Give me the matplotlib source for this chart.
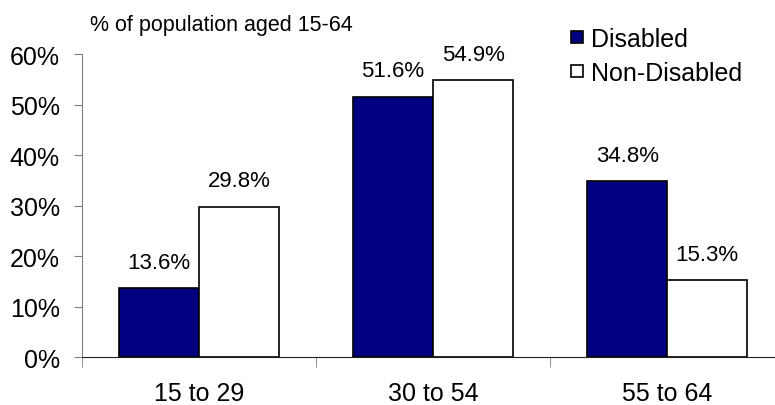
import matplotlib.pyplot as plt
import numpy as np
from matplotlib.lines import Line2D
from matplotlib.ticker import FixedLocator, PercentFormatter

plt.rcParams['font.family'] = ['Liberation Sans', 'DejaVu Sans']

age_groups = ["15 to 29", "30 to 54", "55 to 64"]
disabled = [13.6, 51.6, 34.8]
non_disabled = [29.8, 54.9, 15.3]

fig = plt.figure(figsize=(7.75, 4.06), dpi=100)
ax = fig.add_axes([0.1058, 0.118, 0.894, 0.746])

x = np.arange(len(age_groups))
w = 0.342
b1 = ax.bar(x - w / 2, disabled, w, color="#000080", edgecolor="black",
            linewidth=1.2, label="Disabled")
b2 = ax.bar(x + w / 2, non_disabled, w, color="white", edgecolor="black",
            linewidth=1.2, label="Non-Disabled")

for bars, vals in ((b1, disabled), (b2, non_disabled)):
    for rect, v in zip(bars, vals):
        ax.annotate(f"{v}%", (rect.get_x() + rect.get_width() / 2, v),
                    xytext=(0, 11), textcoords="offset points",
                    ha="center", va="bottom", fontsize=16)

ax.set_xlim(-0.5, 2.46)
ax.set_ylim(0, 60)
ax.set_yticks(np.arange(0, 61, 10))
ax.yaxis.set_major_formatter(PercentFormatter(decimals=0))
ax.set_xticks(x)
ax.set_xticklabels(age_groups)
ax.xaxis.set_minor_locator(FixedLocator([-0.5, 0.5, 1.5]))

ax.tick_params(axis="x", which="major", length=0, pad=17, labelsize=18)
ax.tick_params(axis="x", which="minor", length=7, color="#808080")
ax.tick_params(axis="y", length=6, color="#808080", pad=10, labelsize=18)

for s in ("top", "right"):
    ax.spines[s].set_visible(False)
ax.spines["left"].set_color("#808080")
ax.spines["bottom"].set_color("#202020")

fig.text(0.116, 0.938, "% of population aged 15-64", fontsize=15.5, va="center")

# square legend keys
handles = [
    Line2D([], [], marker="s", linestyle="none", markersize=8,
           markerfacecolor="#000080", markeredgecolor="black", markeredgewidth=1.2),
    Line2D([], [], marker="s", linestyle="none", markersize=8,
           markerfacecolor="white", markeredgecolor="black", markeredgewidth=1.2),
]
ax.legend(handles, ["Disabled", "Non-Disabled"], loc="upper left",
          bbox_to_anchor=(0.735, 0.932), bbox_transform=fig.transFigure,
          frameon=False, fontsize=18, handlelength=0.6, handletextpad=0.25,
          labelspacing=0.42, borderaxespad=0, borderpad=0)

fig.savefig("out.png", dpi=100)
